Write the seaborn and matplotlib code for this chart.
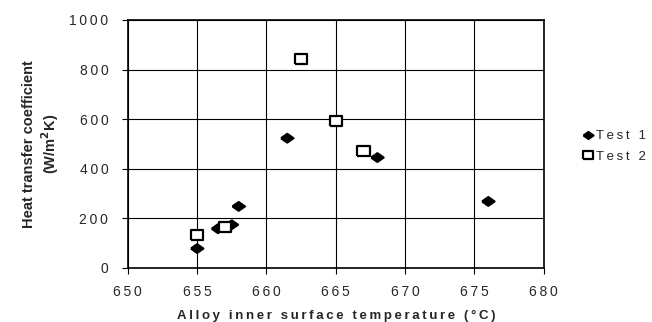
import matplotlib
matplotlib.use("Agg")
import matplotlib.pyplot as plt
from matplotlib.ticker import FuncFormatter
import seaborn as sns
import pandas as pd

# Test 1 (filled diamonds)
test1_temp = [655.0, 656.5, 657.5, 658.0, 661.5, 668.0, 676.0]
test1_htc = [78, 158, 174, 248, 523, 445, 268]

# Test 2 (open squares)
test2_temp = [655.0, 657.0, 662.5, 665.0, 667.0]
test2_htc = [131, 165, 842, 592, 473]

df = pd.concat([
    pd.DataFrame({"temp": test1_temp, "htc": test1_htc, "series": "Test 1"}),
    pd.DataFrame({"temp": test2_temp, "htc": test2_htc, "series": "Test 2"}),
], ignore_index=True)

sns.set_style("white")
plt.rcParams["font.family"] = ["Liberation Sans", "DejaVu Sans"]

SP = "\u2009"  # thin space, to mimic the wide letter spacing of the original


def spaced(s):
    return SP.join(s)


# flattened diamond and slightly wide square, like the original markers
diamond = [(-1, 0), (0, 0.7), (1, 0), (0, -0.7), (-1, 0)]
square = [(-1, -0.8), (1, -0.8), (1, 0.8), (-1, 0.8), (-1, -0.8)]

fig = plt.figure(figsize=(6.52, 3.22), dpi=100)
ax = fig.add_axes([0.196, 0.168, 0.638, 0.770])

sns.scatterplot(
    data=df, x="temp", y="htc", hue="series", style="series",
    hue_order=["Test 1", "Test 2"],
    palette={"Test 1": "black", "Test 2": "white"},
    markers={"Test 1": diamond, "Test 2": square},
    s=80, edgecolor="black", linewidth=1.6, ax=ax, zorder=3,
)

ax.set_xlim(650, 680)
ax.set_ylim(0, 1000)
ax.set_xticks(range(650, 681, 5))
ax.set_yticks(range(0, 1001, 200))
fmt = FuncFormatter(lambda v, pos: spaced(f"{v:.0f}"))
ax.xaxis.set_major_formatter(fmt)
ax.yaxis.set_major_formatter(fmt)
ax.grid(True, color="black", linewidth=0.8)
for sp in ax.spines.values():
    sp.set_color("black")
    sp.set_linewidth(1.2)
ax.tick_params(axis="both", labelsize=10, length=4, color="black", direction="out",
               bottom=True, left=True)
ax.tick_params(axis="x", pad=8)
ax.tick_params(axis="y", pad=10)

ax.set_xlabel(spaced("Alloy inner surface temperature (°C)"), fontsize=9.5,
              fontweight="bold", labelpad=8)
ax.set_ylabel("Heat transfer coefficient\n(W/m$^\\mathbf{2}$K)", fontsize=10.5,
              fontweight="bold", labelpad=6)

handles, labels = ax.get_legend_handles_labels()
ax.legend(handles, [spaced(l) for l in labels], loc="center left",
          bbox_to_anchor=(1.078, 0.49), frameon=False, borderaxespad=0,
          fontsize=9.5, handletextpad=0.1, labelspacing=0.6, markerscale=0.8,
          handlelength=1.0)

fig.savefig("out.png", dpi=100)
